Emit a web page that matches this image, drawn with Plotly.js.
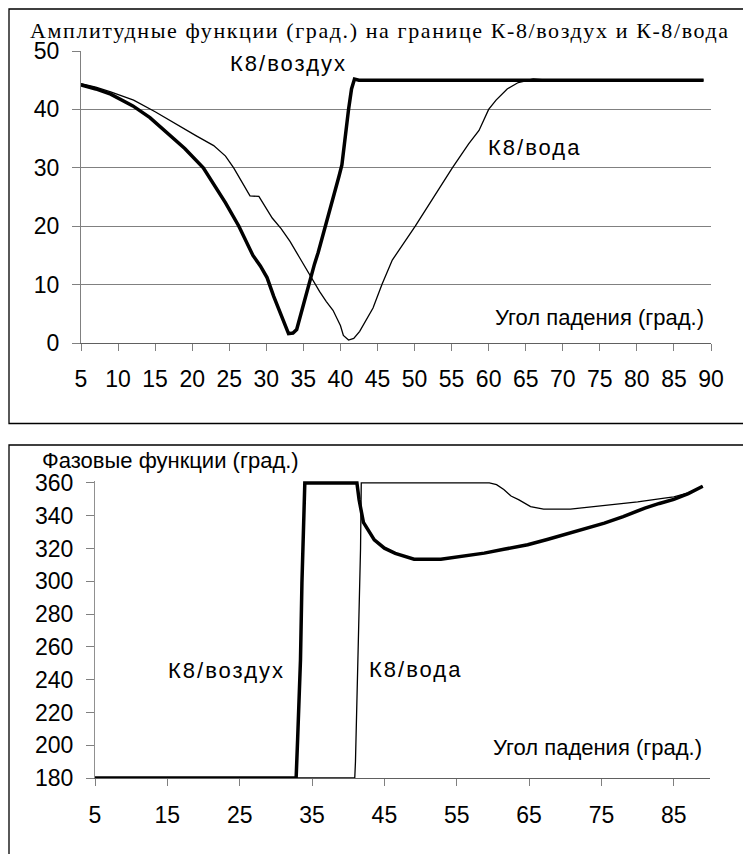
<!DOCTYPE html>
<html>
<head>
<meta charset="utf-8">
<script src="https://cdn.plot.ly/plotly-3.0.1.min.js"></script>
<style>
  html, body { margin: 0; padding: 0; background: #fff; }
  #chart { width: 743px; height: 854px; }
  /* wide-set captions */
  g.annotation[data-index="0"] .annotation-text { letter-spacing: 1.6px; }
  g.annotation[data-index="1"] .annotation-text,
  g.annotation[data-index="2"] .annotation-text,
  g.annotation[data-index="5"] .annotation-text,
  g.annotation[data-index="6"] .annotation-text { letter-spacing: 2px; }
</style>
</head>
<body>
<div id="chart"></div>
<script>
// Angle of incidence (deg) and amplitude functions (deg)
const ampAirAngle = [5, 7, 9, 10.5, 12, 14.3, 16.6, 19, 21.5, 22.9, 24.5, 26.3, 27.5, 28.2, 29.2, 30.1, 31, 32, 33, 33.6, 34.1, 35, 35.7, 36.5, 37, 38, 39, 39.8, 40.2, 40.5, 41.1, 41.5, 41.9, 42.5, 50, 60, 70, 80, 89];
const ampAir = [44.2, 43.5, 42.6, 41.6, 40.6, 38.6, 36.1, 33.3, 30, 27.3, 24, 20, 17, 15, 13.2, 11.2, 8, 4.8, 1.6, 1.7, 2.3, 6.5, 10, 13.5, 15.5, 20, 24.5, 28.5, 30.5, 34, 40, 43.5, 45.2, 45, 45, 45, 45, 45, 45];

const ampWaterAngle = [5, 7, 9, 12.1, 15, 18.4, 20.5, 22.9, 24.5, 25.6, 26.7, 27.8, 29, 30, 30.8, 32, 33.2, 34.5, 36.1, 37.2, 38.1, 39, 40, 40.4, 41.1, 41.8, 42.6, 43.5, 44.4, 45.6, 47, 50.1, 52.6, 55.1, 57.3, 58.7, 60, 61, 62.5, 64, 66, 68, 75, 89];
const ampWater = [44.4, 43.8, 43, 41.6, 39.6, 37, 35.5, 33.8, 32, 30, 27.6, 25.2, 25.1, 23, 21.4, 19.6, 17.4, 14.6, 11.1, 8.8, 7.1, 5.6, 3, 1.3, 0.5, 0.8, 2, 4, 6, 10, 14.2, 20, 25, 30, 34.1, 36.4, 40, 41.6, 43.5, 44.6, 45.2, 45, 45, 45];

// Phase functions (deg)
const phaseAirAngle = [5, 15, 25, 32.8, 33.0, 33.4, 33.6, 33.8, 33.9, 34.0, 36, 38, 40, 41.2, 41.5, 42.1, 43.6, 45, 46.5, 49.1, 52.8, 55.5, 58.8, 61.5, 64.8, 67.5, 69.9, 72.5, 75.4, 78, 81, 83, 85, 87, 89];
const phaseAir = [180, 180, 180, 180, 203, 252, 299, 325, 350, 360, 360, 360, 360, 360, 349.7, 336, 325.3, 320.2, 317, 313.5, 313.5, 315, 317.2, 319.5, 322.3, 325.5, 328.4, 331.5, 335.5, 339.5, 344.7, 347.5, 350, 353.5, 358];

const phaseWaterAngle = [5, 15, 25, 35, 40.9, 41.0, 41.3, 41.6, 41.7, 41.8, 45, 50, 55, 59.5, 60.5, 61.5, 62.5, 63.6, 65.2, 67, 70.7, 75, 80, 83.7, 85, 87, 89];
const phaseWater = [180, 180, 180, 180, 180, 190, 240, 290, 320, 360, 360, 360, 360, 360, 359, 356, 352, 349.7, 345.6, 344, 344, 346, 348.5, 350.8, 351.5, 354, 358];

// Axis ticks
const ampTickAngles = [5, 10, 15, 20, 25, 30, 35, 40, 45, 50, 55, 60, 65, 70, 75, 80, 85, 90];
const ampTickValues = [0, 10, 20, 30, 40, 50];
const phaseTickAngles = [5, 15, 25, 35, 45, 55, 65, 75, 85];
const phaseTickValues = [180, 200, 220, 240, 260, 280, 300, 320, 340, 360];

const W = 743, H = 854;
const px = v => v / W;          // horizontal pixel -> paper
const py = v => 1 - v / H;      // vertical pixel -> paper

const thick = { color: '#000', width: 3.5 };
const thin = { color: '#000', width: 1.3 };

const traces = [
  { x: ampWaterAngle, y: ampWater, xaxis: 'x', yaxis: 'y', mode: 'lines', line: thin, hoverinfo: 'skip' },
  { x: ampAirAngle, y: ampAir, xaxis: 'x', yaxis: 'y', mode: 'lines', line: thick, hoverinfo: 'skip' },
  { x: phaseWaterAngle, y: phaseWater, xaxis: 'x2', yaxis: 'y2', mode: 'lines', line: thin, hoverinfo: 'skip' },
  { x: phaseAirAngle, y: phaseAir, xaxis: 'x2', yaxis: 'y2', mode: 'lines', line: thick, hoverinfo: 'skip' }
];

const sans = 'Liberation Sans, Arial, sans-serif';
const tickFont = { family: sans, size: 23, color: '#000' };
const labelFont = { family: sans, size: 22, color: '#000' };

const layout = {
  width: W, height: H,
  margin: { l: 0, r: 0, t: 0, b: 0 },
  paper_bgcolor: '#fff',
  plot_bgcolor: 'rgba(0,0,0,0)',
  showlegend: false,
  font: { family: sans, color: '#000' },
  xaxis: {
    domain: [px(81), px(711)], range: [5, 90], anchor: 'y',
    tickmode: 'array', tickvals: ampTickAngles,
    ticks: 'outside', ticklen: 7, tickwidth: 1, tickcolor: '#808080',
    showline: true, linecolor: '#606060', linewidth: 1,
    showgrid: false, zeroline: false,
    tickfont: tickFont, ticklabelstandoff: 8, fixedrange: true
  },
  yaxis: {
    domain: [py(343), py(51)], range: [0, 50], anchor: 'x',
    tickmode: 'array', tickvals: ampTickValues,
    ticks: 'outside', ticklen: 8, tickwidth: 1, tickcolor: '#808080',
    showline: true, linecolor: '#808080', linewidth: 1,
    showgrid: true, gridcolor: '#808080', gridwidth: 1, zeroline: false,
    tickfont: tickFont, ticklabelstandoff: 8, fixedrange: true
  },
  xaxis2: {
    domain: [px(95), px(710)], range: [5, 90], anchor: 'y2',
    tickmode: 'array', tickvals: phaseTickAngles,
    ticks: 'outside', ticklen: 7, tickwidth: 1, tickcolor: '#808080',
    showline: true, linecolor: '#606060', linewidth: 1,
    showgrid: false, zeroline: false,
    tickfont: tickFont, ticklabelstandoff: 9, fixedrange: true
  },
  yaxis2: {
    domain: [py(778), py(480.5)], range: [180, 361.5], anchor: 'x2',
    tickmode: 'array', tickvals: phaseTickValues,
    ticks: 'outside', ticklen: 8, tickwidth: 1, tickcolor: '#808080',
    showline: true, linecolor: '#909090', linewidth: 1,
    showgrid: false, zeroline: false,
    tickfont: tickFont, ticklabelstandoff: 8, fixedrange: true
  },
  shapes: [
    { type: 'rect', xref: 'paper', yref: 'paper', x0: px(9), x1: 1.05, y0: py(423.5), y1: py(9),
      line: { color: '#000', width: 1.3 }, fillcolor: 'rgba(0,0,0,0)', layer: 'below' },
    { type: 'rect', xref: 'paper', yref: 'paper', x0: px(9), x1: 1.05, y0: -0.05, y1: py(445),
      line: { color: '#000', width: 1.3 }, fillcolor: 'rgba(0,0,0,0)', layer: 'below' }
  ],
  annotations: [
    { text: 'Амплитудные функции (град.) на границе К-8/воздух и К-8/вода',
      xref: 'paper', yref: 'paper', x: px(380), y: py(30), xanchor: 'center', yanchor: 'middle',
      showarrow: false, font: { family: 'Liberation Serif, Times New Roman, serif', size: 22, color: '#000' } },
    { text: 'К8/воздух', xref: 'x', yref: 'y', x: 33.0, y: 47.8, xanchor: 'center', yanchor: 'middle',
      showarrow: false, font: labelFont },
    { text: 'К8/вода', xref: 'x', yref: 'y', x: 66.2, y: 33.4, xanchor: 'center', yanchor: 'middle',
      showarrow: false, font: labelFont },
    { text: 'Угол падения (град.)', xref: 'x', yref: 'y', x: 60.6, y: 4.3, xanchor: 'left', yanchor: 'middle',
      showarrow: false, font: labelFont },
    { text: 'Фазовые функции (град.)', xref: 'paper', yref: 'paper', x: px(40), y: py(460), xanchor: 'left', yanchor: 'middle',
      showarrow: false, font: labelFont },
    { text: 'К8/воздух', xref: 'x2', yref: 'y2', x: 23.2, y: 245.3, xanchor: 'center', yanchor: 'middle',
      showarrow: false, font: labelFont },
    { text: 'К8/вода', xref: 'x2', yref: 'y2', x: 49.4, y: 245.9, xanchor: 'center', yanchor: 'middle',
      showarrow: false, font: labelFont },
    { text: 'Угол падения (град.)', xref: 'x2', yref: 'y2', x: 59.7, y: 198.9, xanchor: 'left', yanchor: 'middle',
      showarrow: false, font: labelFont }
  ]
};

Plotly.newPlot('chart', traces, layout, { staticPlot: true, displayModeBar: false });
</script>
</body>
</html>
